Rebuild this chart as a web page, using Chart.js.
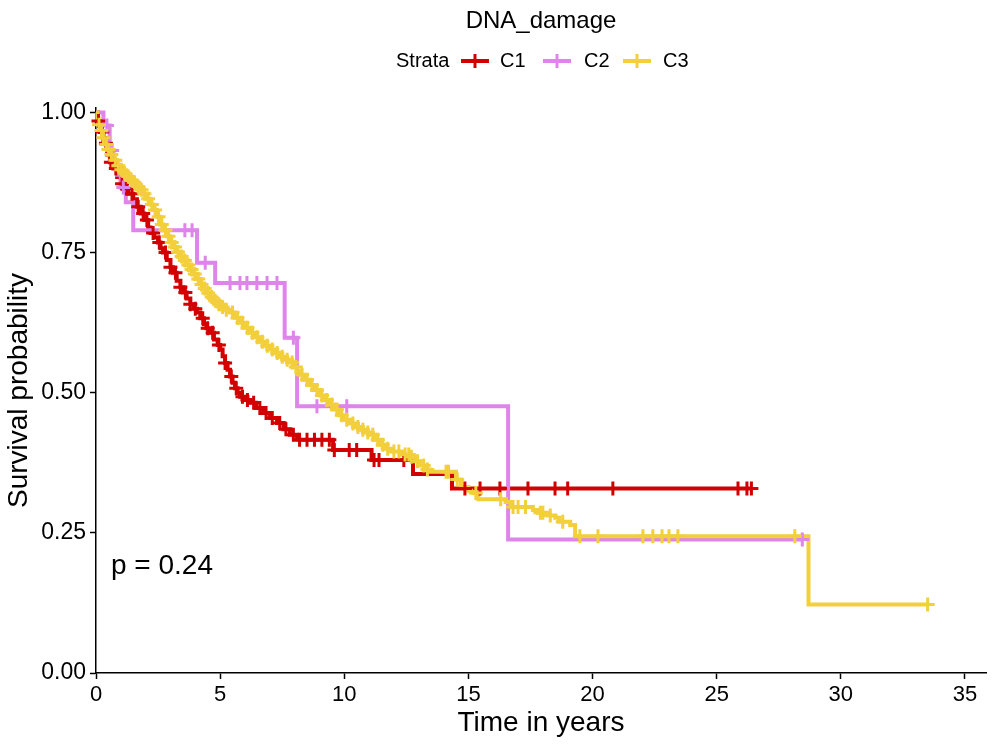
<!DOCTYPE html>
<html>
<head>
<meta charset="utf-8">
<script src="https://cdn.jsdelivr.net/npm/chart.js@4/dist/chart.umd.min.js"></script>
<style>
  html, body { margin: 0; padding: 0; background: #ffffff; }
  #wrap { width: 996px; height: 746px; position: relative; }
</style>
</head>
<body>
<div id="wrap"><canvas id="c" width="996" height="746"></canvas></div>
<script>
// ---------- data ----------
const chartTitle = "DNA_damage";
const legendTitle = "Strata";
const strata = ["C1", "C2", "C3"];
const strataColors = ["#D20000", "#DE84EA", "#F2CF3B"];

const xTicks = [0, 5, 10, 15, 20, 25, 30, 35];
const yTicks = [0, 0.25, 0.5, 0.75, 1.0];
const pValueText = "p = 0.24";

// C1 step curve (time in years, survival after that time)
const c1Time = [0,0.08,0.16,0.3,0.45,0.56,0.7,0.85,1.0,1.15,1.3,1.5,1.65,1.8,1.95,2.1,2.2,2.35,2.5,2.6,2.7,2.85,3.0,3.1,3.25,3.4,3.5,3.65,3.8,3.95,4.07,4.2,4.35,4.45,4.59,4.75,4.9,5.0,5.1,5.2,5.3,5.4,5.5,5.6,5.7,5.8,6.0,6.2,6.45,6.73,7.0,7.29,7.55,7.81,8.1,9.55,11.1,12.77,14.34,26.4];
const c1Surv = [1,0.985,0.965,0.945,0.925,0.911,0.9,0.885,0.873,0.864,0.855,0.845,0.832,0.82,0.808,0.795,0.785,0.777,0.768,0.758,0.75,0.737,0.724,0.714,0.7,0.688,0.679,0.668,0.658,0.65,0.643,0.633,0.622,0.615,0.607,0.595,0.585,0.577,0.565,0.553,0.541,0.529,0.518,0.508,0.5,0.493,0.487,0.482,0.473,0.464,0.455,0.446,0.435,0.425,0.416,0.398,0.38,0.355,0.329,0.329];
const c1Censor = [0.1,0.25,0.4,0.6,0.8,1.05,1.25,1.45,1.7,1.9,2.05,2.3,2.55,2.8,3.0,3.2,3.4,3.6,3.8,4.0,4.3,4.5,4.7,4.95,5.2,5.45,5.65,5.9,6.1,6.35,6.6,6.85,7.1,7.4,7.65,7.95,8.2,8.5,8.8,9.1,9.4,9.6,10.2,10.5,11.2,11.4,12.4,14.86,15.47,16.27,17.4,18.49,19.0,20.82,25.86,26.22,26.4];

// C2 step curve
const c2Time = [0,0.3,0.55,0.7,0.85,1.0,1.2,1.5,4.07,4.8,7.6,8.1,16.6,28.45];
const c2Surv = [1,0.977,0.932,0.91,0.889,0.866,0.84,0.79,0.732,0.696,0.598,0.476,0.238,0.238];
const c2Censor = [0.44,0.65,1.1,3.58,3.87,4.4,5.4,5.8,6.08,6.48,6.89,7.29,7.95,8.9,10.1,28.45];

// C3 step curve
const c3Time = [0,0.05,0.1,0.16,0.25,0.36,0.46,0.56,0.7,0.85,0.97,1.1,1.25,1.37,1.5,1.65,1.77,1.9,2.05,2.17,2.3,2.45,2.58,2.7,2.85,2.98,3.1,3.25,3.38,3.5,3.65,3.79,3.9,4.05,4.19,4.3,4.45,4.59,4.75,4.9,5.05,5.2,5.4,5.6,5.8,6.0,6.2,6.4,6.6,6.8,7.0,7.2,7.41,7.6,7.81,7.95,8.1,8.22,8.4,8.62,8.8,9.02,9.2,9.42,9.6,9.8,9.95,10.23,10.45,10.63,10.85,11.03,11.25,11.44,11.65,11.84,12.3,12.65,12.85,13.05,13.3,13.45,14.5,14.7,15.0,15.2,15.4,16.5,16.7,17.6,17.8,18.2,18.5,18.65,19.1,19.3,28.7,33.5];
const c3Surv = [1,0.99,0.978,0.968,0.955,0.943,0.934,0.925,0.915,0.905,0.898,0.892,0.886,0.88,0.875,0.868,0.862,0.855,0.846,0.836,0.826,0.814,0.8,0.79,0.779,0.768,0.76,0.751,0.743,0.736,0.728,0.72,0.712,0.703,0.693,0.686,0.678,0.671,0.664,0.658,0.653,0.648,0.643,0.634,0.625,0.616,0.607,0.599,0.591,0.584,0.577,0.571,0.564,0.559,0.554,0.546,0.539,0.532,0.523,0.514,0.505,0.495,0.487,0.479,0.47,0.46,0.452,0.445,0.439,0.434,0.429,0.425,0.416,0.407,0.4,0.395,0.39,0.386,0.378,0.37,0.363,0.359,0.345,0.332,0.325,0.321,0.31,0.305,0.296,0.291,0.286,0.281,0.277,0.27,0.264,0.244,0.122,0.122];
const c3Censor = [0.12,0.22,0.3,0.42,0.5,0.62,0.78,0.9,1.02,1.15,1.3,1.42,1.55,1.7,1.83,1.95,2.1,2.25,2.38,2.52,2.65,2.8,2.92,3.05,3.18,3.3,3.45,3.58,3.72,3.85,3.98,4.12,4.25,4.38,4.52,4.66,4.8,4.95,5.1,5.25,5.5,5.7,5.9,6.1,6.3,6.5,6.7,6.9,7.1,7.3,7.5,7.7,7.9,8.05,8.3,8.5,8.7,8.9,9.1,9.3,9.5,9.7,9.9,10.1,10.35,10.55,10.75,10.95,11.15,11.35,11.55,11.75,12.0,12.2,12.45,12.6,12.7,12.95,13.2,13.35,14.1,14.2,14.55,15.3,16.3,16.8,17.0,17.3,17.9,18.0,18.3,18.8,19.49,20.22,22.03,22.43,22.8,23.08,23.44,28.15,33.5];

// ---------- helpers ----------
function stepPoints(times, surv) {
  const n = Math.min(times.length, surv.length);
  const out = [];
  for (let i = 0; i < n; i++) out.push({x: times[i], y: surv[i]});
  return out;
}
function survAt(times, surv, t) {
  let v = surv[0];
  for (let i = 0; i < times.length; i++) { if (times[i] <= t) v = surv[i]; else break; }
  return v;
}
function censorPoints(times, surv, cens) {
  return cens.map(t => ({x: t, y: survAt(times, surv, t)}));
}

const FONT = "'Liberation Sans', Arial, Helvetica, sans-serif";
Chart.defaults.font.family = FONT;
Chart.defaults.color = "#000";

const curves = [
  {t: c1Time, s: c1Surv, c: c1Censor},
  {t: c2Time, s: c2Surv, c: c2Censor},
  {t: c3Time, s: c3Surv, c: c3Censor}
];

const datasets = [];
curves.forEach((cv, i) => {
  datasets.push({
    type: 'line',
    label: strata[i],
    data: stepPoints(cv.t, cv.s),
    borderColor: strataColors[i],
    backgroundColor: strataColors[i],
    borderWidth: 4,
    stepped: 'before',
    pointRadius: 0,
    fill: false,
    clip: false,
    order: 6 - i
  });
});
curves.forEach((cv, i) => {
  datasets.push({
    type: 'scatter',
    label: strata[i] + ' censor',
    data: censorPoints(cv.t, cv.s, cv.c),
    borderColor: strataColors[i],
    backgroundColor: strataColors[i],
    pointStyle: 'cross',
    pointRadius: 7,
    pointBorderWidth: 3,
    showLine: false,
    clip: false,
    order: 3 - i
  });
});

// legend / title / p-value drawn by a small plugin
const decorPlugin = {
  id: 'decor',
  afterDraw(chart) {
    const ctx = chart.ctx;
    ctx.save();
    ctx.fillStyle = '#000';
    ctx.textBaseline = 'middle';
    // title
    ctx.font = "24px " + FONT;
    ctx.textAlign = 'center';
    ctx.fillText(chartTitle, 541, 21);
    // legend
    ctx.font = "20px " + FONT;
    ctx.textAlign = 'left';
    const ly = 61;
    ctx.fillText(legendTitle, 396, ly);
    const symX = [475, 557, 637];
    const txtX = [500, 584, 663];
    for (let i = 0; i < strata.length; i++) {
      ctx.strokeStyle = strataColors[i];
      ctx.lineWidth = 4;
      ctx.beginPath();
      ctx.moveTo(symX[i] - 14, ly); ctx.lineTo(symX[i] + 14, ly);
      ctx.stroke();
      ctx.lineWidth = 3;
      ctx.beginPath();
      ctx.moveTo(symX[i], ly - 7); ctx.lineTo(symX[i], ly + 7);
      ctx.stroke();
      ctx.fillStyle = '#000';
      ctx.fillText(strata[i], txtX[i], ly);
    }
    // p-value
    ctx.font = "28px " + FONT;
    ctx.textBaseline = 'alphabetic';
    ctx.fillText(pValueText, 111, 574);
    ctx.restore();
  }
};

new Chart(document.getElementById('c'), {
  data: { datasets },
  options: {
    responsive: false,
    animation: false,
    events: [],
    layout: { padding: { top: 108, right: 2, left: 0, bottom: 0 } },
    plugins: { legend: { display: false }, tooltip: { enabled: false } },
    scales: {
      x: {
        type: 'linear',
        min: 0, max: 35.85,
        afterFit(scale) { scale.height = 73; },
        afterBuildTicks(scale) { scale.ticks = xTicks.map(v => ({value: v})); },
        ticks: { font: { size: 22 }, color: '#000', padding: 3, maxRotation: 0, callback: v => String(v) },
        grid: { display: true, drawOnChartArea: false, drawTicks: true, tickLength: 6, tickColor: '#000', tickWidth: 1.5 },
        border: { display: true, color: '#000', width: 1.5 },
        title: { display: true, text: 'Time in years', font: { size: 28 }, color: '#000', padding: { top: 0, bottom: 6 } }
      },
      y: {
        type: 'linear',
        min: 0, max: 1.008,
        afterFit(scale) { scale.width = 96; },
        afterBuildTicks(scale) { scale.ticks = yTicks.map(v => ({value: v})); },
        ticks: { font: { size: 23 }, color: '#000', padding: 4, callback: v => Number(v).toFixed(2) },
        grid: { display: true, drawOnChartArea: false, drawTicks: true, tickLength: 6, tickColor: '#000', tickWidth: 1.5 },
        border: { display: true, color: '#000', width: 1.5 },
        title: { display: true, text: 'Survival probability', font: { size: 28 }, color: '#000', padding: { top: 2, bottom: 0 } }
      }
    }
  },
  plugins: [decorPlugin]
});
</script>
</body>
</html>
